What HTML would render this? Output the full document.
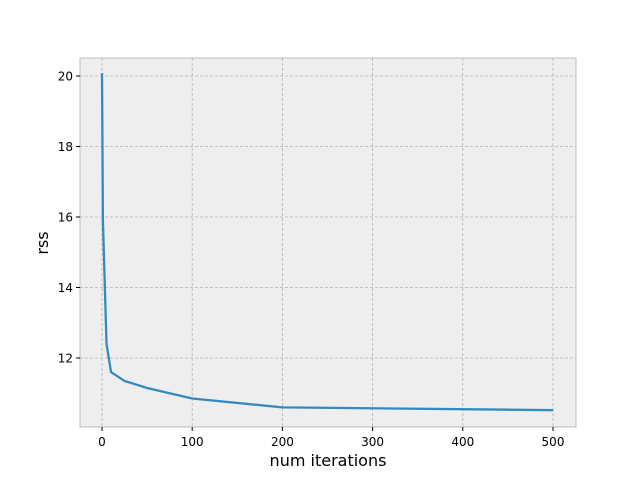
<!DOCTYPE html>
<html><head><meta charset="utf-8"><style>
body{margin:0;background:#fff;font-family:"DejaVu Sans","Liberation Sans",sans-serif}
</style></head><body>
<svg width="640" height="480" xmlns="http://www.w3.org/2000/svg" font-family="DejaVu Sans, Liberation Sans, sans-serif">
<rect x="0" y="0" width="640" height="480" fill="#fff"/>
<rect x="80" y="58" width="496" height="369" fill="#eeeeee" stroke="#bcbcbc" stroke-width="1"/>
<g id="grid"></g><g id="ticks"></g>
<path id="line" fill="none" stroke="#348abd" stroke-width="2.3"/>
<text x="328" y="466" font-size="16" text-anchor="middle" fill="#000">num iterations</text>
<text x="48" y="243" font-size="16" text-anchor="middle" fill="#000" transform="rotate(-90 48 243)">rss</text>
</svg>
<script>
const iterations=[0,1,5,10,25,50,100,200,500];
const rss=[20.08,15.9,12.4,11.6,11.35,11.15,10.85,10.6,10.52];
const xTicks=[0,100,200,300,400,500];
const yTicks=[12,14,16,18,20];
const sx=v=>102+v*0.902;
const sy=v=>358-(v-12)*35.25;
const NS="http://www.w3.org/2000/svg";
const g=document.getElementById('grid'),t=document.getElementById('ticks');
function mk(tag,a,p){const e=document.createElementNS(NS,tag);for(const k in a)e.setAttribute(k,a[k]);p.appendChild(e);return e;}
xTicks.forEach(v=>{const x=sx(v);
const l=mk('line',{x1:x,x2:x,y1:58,y2:427,stroke:'#b2b2b2','stroke-dasharray':'3,2','stroke-width':0.8},g);


mk('line',{x1:x,x2:x,y1:427,y2:431,stroke:'#000'},t);
const tx=mk('text',{x:x,y:446,'font-size':12,'text-anchor':'middle'},t);tx.textContent=v;

});
yTicks.forEach(v=>{const y=sy(v);
const l=mk('line',{x1:80,x2:576,y1:y,y2:y,stroke:'#b2b2b2','stroke-dasharray':'3,2','stroke-width':0.8},g);


mk('line',{x1:76,x2:80,y1:y,y2:y,stroke:'#000'},t);
const tx=mk('text',{x:73,y:y+4.5,'font-size':12,'text-anchor':'end'},t);tx.textContent=v;

});
document.getElementById('line').setAttribute('d',iterations.map((v,i)=>(i?'L':'M')+sx(v)+','+sy(rss[i])).join(''));
</script>
</body></html>
